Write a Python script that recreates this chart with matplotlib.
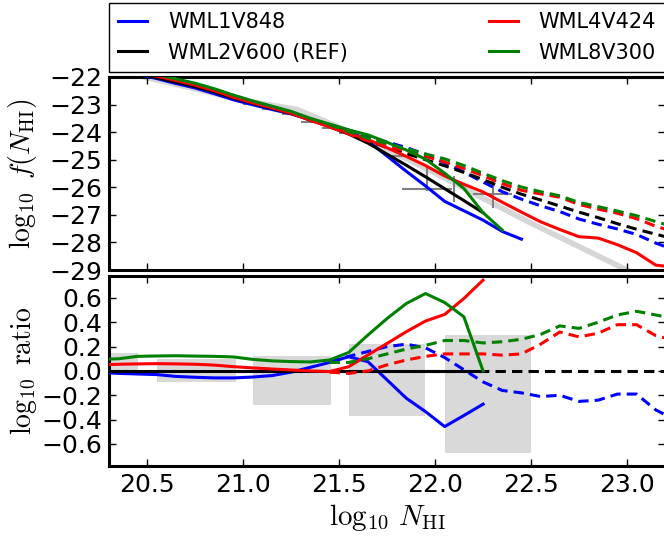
import matplotlib
matplotlib.use("Agg")
import matplotlib.pyplot as plt
import numpy as np

plt.rcParams["mathtext.fontset"] = "cm"

# log10 N_HI bin centres shared by the simulation runs
logN = [20.25, 20.35, 20.45, 20.55, 20.65, 20.75, 20.85, 20.95, 21.05, 21.15,
        21.25, 21.35, 21.45, 21.55, 21.65, 21.75, 21.85, 21.95, 22.05, 22.15,
        22.25, 22.35, 22.45, 22.55, 22.65, 22.75, 22.85, 22.95, 23.05, 23.15,
        23.25]

# log10 f(N_HI), solid = HI only
fN_ref = [-21.55, -21.72, -21.88, -22.03, -22.19, -22.35, -22.55, -22.77, -22.96, -23.14,
          -23.33, -23.57, -23.80, -24.07, -24.40, -24.80, -25.20, -25.62, -26.05, -26.48,
          -26.92]
fN_wml1 = [-21.56, -21.74, -21.90, -22.06, -22.24, -22.40, -22.61, -22.83, -23.01, -23.18,
           -23.34, -23.54, -23.73, -23.95, -24.32, -24.87, -25.42, -25.95, -26.51, -26.85,
           -27.19, -27.60, -27.88]
fN_wml4 = [-21.50, -21.67, -21.82, -21.97, -22.13, -22.30, -22.50, -22.74, -22.94, -23.12,
           -23.32, -23.57, -23.81, -24.04, -24.27, -24.57, -24.88, -25.21, -25.59, -25.89,
           -26.17, -26.54, -26.90, -27.25, -27.53, -27.79, -27.84, -28.08, -28.37, -28.82,
           -28.90]
fN_wml8 = [-21.46, -21.62, -21.76, -21.91, -22.07, -22.23, -22.43, -22.66, -22.87, -23.06,
           -23.25, -23.50, -23.71, -23.92, -24.10, -24.37, -24.65, -24.98, -25.49, -26.04,
           -26.92, -27.55]

# dashed = total neutral gas, from logN[12] (21.45) onwards
fN_ref_tot = [-23.80, -24.05, -24.32, -24.56, -24.78, -25.00, -25.22, -25.46, -25.72, -26.00,
              -26.25, -26.46, -26.68, -26.90, -27.10, -27.32, -27.52, -27.70, -27.88]
fN_wml1_tot = [-23.73, -23.93, -24.16, -24.36, -24.56, -24.81, -25.11, -25.45, -25.81, -26.16,
               -26.43, -26.67, -26.88, -27.15, -27.34, -27.51, -27.71, -28.02, -28.28]
fN_wml4_tot = [-23.81, -24.07, -24.32, -24.51, -24.69, -24.88, -25.08, -25.32, -25.58, -25.87,
               -26.11, -26.24, -26.36, -26.62, -26.79, -26.94, -27.14, -27.41, -27.63]
fN_wml8_tot = [-23.73, -23.98, -24.22, -24.42, -24.60, -24.79, -24.97, -25.21, -25.49, -25.76,
               -25.99, -26.16, -26.31, -26.55, -26.70, -26.86, -27.03, -27.24, -27.45]

# log10 ratio to the reference run (solid: logN[:21], dashed: logN[12:])
ratio_wml1 = [-0.010, -0.020, -0.025, -0.030, -0.045, -0.052, -0.057, -0.057, -0.050, -0.038,
              -0.010, 0.030, 0.070, 0.117, 0.076, -0.074, -0.224, -0.334, -0.457, -0.366,
              -0.273]
ratio_wml4 = [0.050, 0.055, 0.058, 0.060, 0.058, 0.055, 0.048, 0.035, 0.025, 0.016,
              0.008, 0.000, -0.005, 0.035, 0.131, 0.226, 0.322, 0.410, 0.464, 0.595,
              0.746]
ratio_wml8 = [0.095, 0.100, 0.120, 0.123, 0.125, 0.122, 0.120, 0.115, 0.095, 0.083,
              0.077, 0.074, 0.090, 0.152, 0.295, 0.431, 0.554, 0.636, 0.562, 0.445,
              0.000]
ratio_wml1_tot = [0.07, 0.12, 0.16, 0.20, 0.22, 0.19, 0.11, 0.01, -0.09, -0.16,
                  -0.18, -0.21, -0.20, -0.25, -0.24, -0.19, -0.19, -0.32, -0.40]
ratio_wml4_tot = [-0.01, -0.02, 0.00, 0.05, 0.09, 0.12, 0.14, 0.14, 0.14, 0.13,
                  0.14, 0.22, 0.32, 0.28, 0.31, 0.38, 0.38, 0.29, 0.25]
ratio_wml8_tot = [0.07, 0.07, 0.10, 0.14, 0.18, 0.21, 0.25, 0.25, 0.23, 0.24,
                  0.26, 0.30, 0.37, 0.35, 0.40, 0.46, 0.49, 0.46, 0.43]

# observational fit and binned data
fit_logN = [20.3, 20.7, 21.0, 21.28, 21.5, 21.75, 22.0, 22.25, 22.5, 22.75, 23.0, 23.2]
fit_fN = [-21.7, -22.35, -22.85, -23.18, -23.82, -24.62, -25.48, -26.4, -27.3, -28.15,
          -29.0, -29.7]
obs_logN = [21.035, 21.14, 21.235, 21.335, 21.445, 21.535, 21.80, 21.96, 22.10, 22.30]
obs_fN = [-22.99, -23.17, -23.33, -23.64, -23.86, -24.04, -24.86, -26.05, -25.95, -26.26]
obs_dx = [0.035, 0.04, 0.035, 0.035, 0.035, 0.035, 0.05, 0.13, 0.0, 0.10]
obs_dy_lo = [0.0, 0.0, 0.0, 0.0, 0.0, 0.0, 0.0, 0.09, 0.6, 0.48]
obs_dy_hi = [0.0, 0.0, 0.0, 0.0, 0.0, 0.0, 0.0, 0.81, 0.35, 0.48]

# ratio of observations to the reference run, per bin
box_lo_x = [20.05, 20.55, 21.05, 21.55, 22.05]
box_hi_x = [20.45, 20.96, 21.46, 21.95, 22.50]
box_lo = [-0.03, -0.09, -0.276, -0.366, -0.67]
box_hi = [0.147, 0.098, 0.12, 0.218, 0.295]

runs = ["WML1V848", "WML2V600 (REF)", "WML4V424", "WML8V300"]
colors = ["b", "k", "r", "g"]

fig = plt.figure(figsize=(6.64, 5.38), dpi=100)
ax1 = fig.add_axes([0.164, 0.498, 0.838, 0.359])
ax2 = fig.add_axes([0.164, 0.134, 0.838, 0.353], sharex=ax1)

lw = 2.2
dash = (3.4, 2.0)

# --- f(N_HI) ---
ax1.plot(fit_logN, fit_fN, color="0.84", lw=4, zorder=1)
ax1.errorbar(obs_logN, obs_fN, xerr=obs_dx, yerr=[obs_dy_lo, obs_dy_hi], fmt="none",
             ecolor="0.5", elinewidth=1.5, capsize=0, zorder=2)

solid_f = [fN_wml1, fN_ref, fN_wml4, fN_wml8]
total_f = [fN_wml1_tot, fN_ref_tot, fN_wml4_tot, fN_wml8_tot]
handles = []
for f, ft, c, name in zip(solid_f, total_f, colors, runs):
    h, = ax1.plot(logN[:len(f)], f, color=c, lw=lw, label=name, zorder=3)
    ax1.plot(logN[12:], ft, color=c, lw=lw, dashes=dash, zorder=3)
    handles.append(h)

ax1.set_ylim(-29, -22)
ax1.set_yticks(np.arange(-29, -21))
ax1.set_ylabel(r"$\log_{10}\ f(N_{\rm HI})$", fontsize=20)
plt.setp(ax1.get_xticklabels(), visible=False)

# --- ratio panel ---
for xl, xh, lo, hi in zip(box_lo_x, box_hi_x, box_lo, box_hi):
    ax2.fill_between([xl, xh], lo, hi, color="0.85", lw=0, zorder=1)

ratio_ref = np.zeros(21)
ratio_ref_tot = np.zeros(19)
solid_r = [ratio_wml1, ratio_ref, ratio_wml4, ratio_wml8]
total_r = [ratio_wml1_tot, ratio_ref_tot, ratio_wml4_tot, ratio_wml8_tot]
for r, rt, c in zip(solid_r, total_r, colors):
    ax2.plot(logN[:21], r, color=c, lw=lw, zorder=3)
    ax2.plot(logN[12:], rt, color=c, lw=lw, dashes=dash, zorder=3)

ax2.set_ylim(-0.78, 0.78)
ax2.set_yticks([-0.6, -0.4, -0.2, 0.0, 0.2, 0.4, 0.6])
ax2.set_xlim(20.3, 23.2)
ax2.set_xticks([20.5, 21.0, 21.5, 22.0, 22.5, 23.0])
ax2.set_ylabel(r"$\log_{10}\ \mathrm{ratio}$", fontsize=20)
ax2.set_xlabel(r"$\log_{10}\,N_{\rm HI}$", fontsize=21)

for ax in (ax1, ax2):
    for sp in ax.spines.values():
        sp.set_linewidth(2.2)
    ax.tick_params(direction="in", top=True, right=True, length=5, width=1,
                   labelsize=18, pad=5)
    ax.yaxis.set_label_coords(-0.125, 0.5)

# legend box spans the panel width, hung from just under the figure top
leg = fig.legend(handles=handles, ncol=2, mode="expand", loc="upper left",
                 bbox_to_anchor=(0.164, 0.0, 0.838, 1 - 3.0 / 538),
                 bbox_transform=fig.transFigure, borderaxespad=0, fontsize=15,
                 handlelength=1.4, handletextpad=1.0, labelspacing=0.5,
                 borderpad=0.45, fancybox=False, framealpha=1)
leg.get_frame().set_edgecolor("k")
leg.get_frame().set_linewidth(1.0)

fig.savefig("out.png", dpi=100)
